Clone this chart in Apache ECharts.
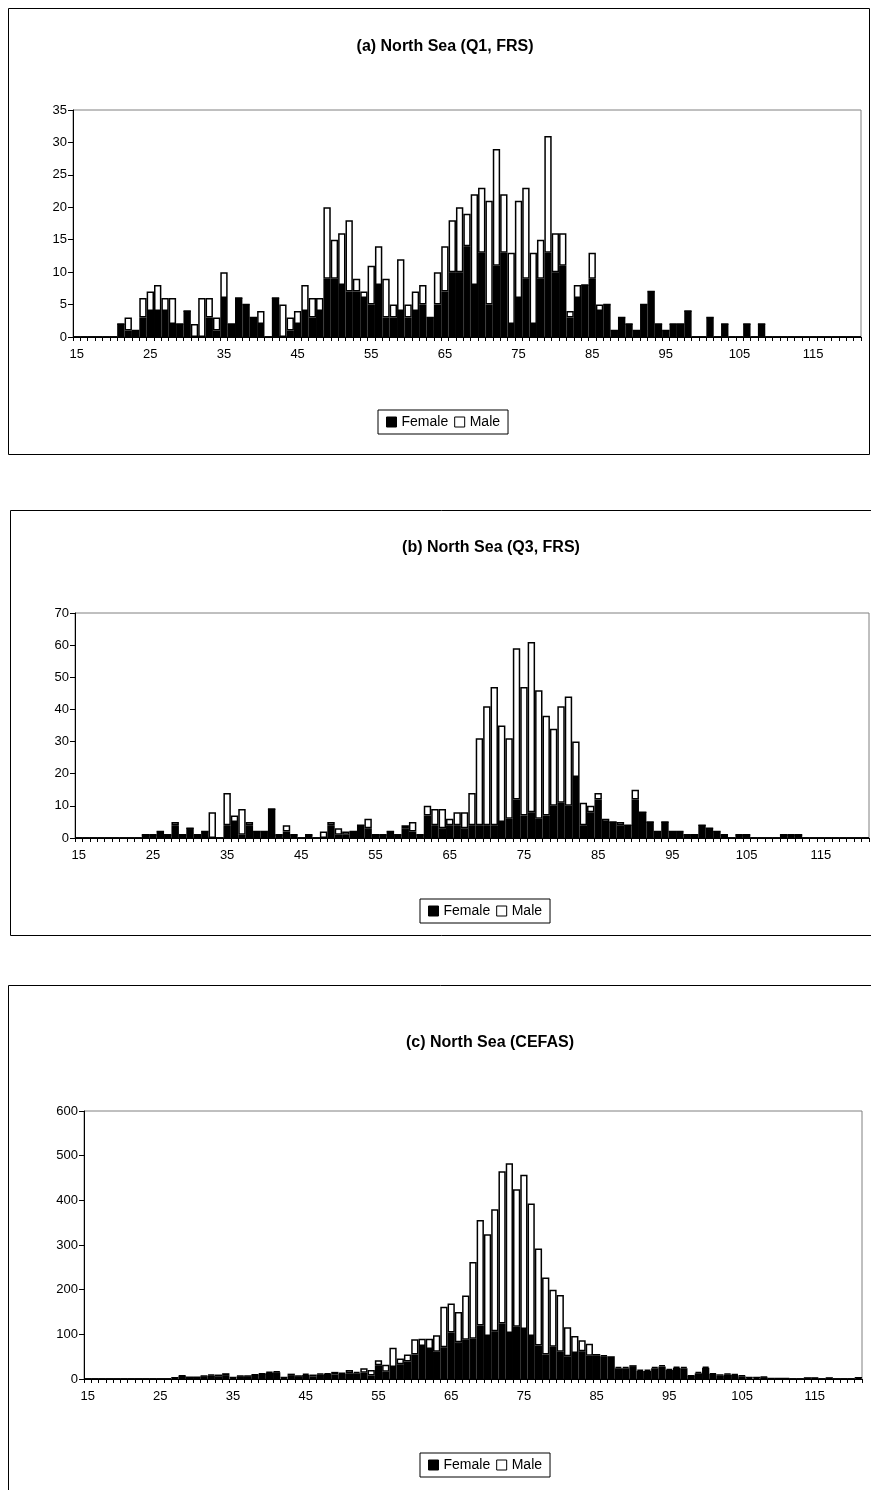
<!DOCTYPE html>
<html>
<head>
<meta charset="utf-8">
<title>North Sea length distributions</title>
<script src="https://cdn.jsdelivr.net/npm/echarts@6/dist/echarts.min.js"></script>
<style>
  html, body { margin: 0; padding: 0; background: #fff; }
  #chart { width: 871px; height: 1490px; }
</style>
</head>
<body>
<div id="chart"></div>
<script>
// length classes (cm), one bar per class
var lengths = [
  '15','16','17','18','19','20','21','22','23','24',
  '25','26','27','28','29','30','31','32','33','34',
  '35','36','37','38','39','40','41','42','43','44',
  '45','46','47','48','49','50','51','52','53','54',
  '55','56','57','58','59','60','61','62','63','64',
  '65','66','67','68','69','70','71','72','73','74',
  '75','76','77','78','79','80','81','82','83','84',
  '85','86','87','88','89','90','91','92','93','94',
  '95','96','97','98','99','100','101','102','103','104',
  '105','106','107','108','109','110','111','112','113','114',
  '115','116','117','118','119','120','121'
];

// (a) Q1, FRS
var aFemale = [
  0,0,0,0,0,0,2,1,1,3,
  4,4,4,2,2,4,0,0,3,1,
  6,2,6,5,3,2,0,6,0,1,
  2,4,3,4,9,9,8,7,7,6,
  5,8,3,3,4,3,4,5,3,5,
  7,10,10,14,8,13,5,11,13,2,
  6,9,2,9,13,10,11,3,6,8,
  9,4,5,1,3,2,1,5,7,2,
  1,2,2,4,0,0,3,0,2,0,
  0,2,0,2,0,0,0,0,0,0,
  0,0,0,0,0,0,0
];
var aMale = [
  0,0,0,0,0,0,0,2,0,3,
  3,4,2,4,0,0,2,6,3,2,
  4,0,0,0,0,2,0,0,5,2,
  2,4,3,2,11,6,8,11,2,1,
  6,6,6,2,8,2,3,3,0,5,
  7,8,10,5,14,10,16,18,9,11,
  15,14,11,6,18,6,5,1,2,0,
  4,1,0,0,0,0,0,0,0,0,
  0,0,0,0,0,0,0,0,0,0,
  0,0,0,0,0,0,0,0,0,0,
  0,0,0,0,0,0,0
];

// (b) Q3, FRS
var bFemale = [
  0,0,0,0,0,0,0,0,0,1,
  1,2,1,4,1,3,1,2,0,0,
  4,5,1,4,2,2,9,1,2,1,
  0,1,0,0,4,1,1,2,4,3,
  1,1,2,1,3,2,1,7,4,3,
  4,4,3,4,4,4,4,5,6,12,
  7,8,6,7,10,11,10,19,4,8,
  12,5,5,4,4,12,8,5,2,5,
  2,2,1,1,4,3,2,1,0,1,
  1,0,0,0,0,1,1,1,0,0,
  0,0,0,0,0,0,0
];
var bMale = [
  0,0,0,0,0,0,0,0,0,0,
  0,0,0,1,0,0,0,0,8,0,
  10,2,8,1,0,0,0,0,2,0,
  0,0,0,2,1,2,1,0,0,3,
  0,0,0,0,1,3,0,3,5,6,
  2,4,5,10,27,37,43,30,25,47,
  40,53,40,31,24,30,34,11,7,2,
  2,1,0,1,0,3,0,0,0,0,
  0,0,0,0,0,0,0,0,0,0,
  0,0,0,0,0,0,0,0,0,0,
  0,0,0,0,0,0,0
];

// (c) CEFAS
var cFemale = [
  0,0,0,0,0,0,0,0,0,0,
  0,0,3,7,4,4,6,8,5,7,
  3,6,6,9,11,14,15,3,7,6,
  9,6,10,11,10,12,13,13,14,8,
  31,16,27,33,39,55,74,67,61,71,
  104,82,88,90,120,96,107,124,103,117,
  112,96,75,55,72,61,51,58,62,52,
  52,51,47,24,24,27,18,18,24,28,
  20,25,24,7,13,25,11,8,10,9,
  6,3,3,4,1,1,1,0,0,2,
  2,0,2,0,0,0,3
];
var cMale = [
  0,0,0,0,0,0,0,0,0,0,
  0,0,0,1,0,0,1,2,5,6,
  1,1,1,1,1,2,2,1,5,1,
  3,4,2,2,6,2,7,3,10,12,
  11,16,43,13,16,34,16,23,37,91,
  65,68,99,172,236,228,273,341,380,308,
  345,297,217,172,128,127,65,38,25,27,
  4,2,4,3,3,4,3,3,3,3,
  3,3,3,1,3,3,2,2,2,2,
  2,1,1,1,0,0,0,0,0,0,
  0,0,0,0,0,0,0
];

var titles = ['(a) North Sea (Q1, FRS)', '(b) North Sea (Q3, FRS)', '(c) North Sea (CEFAS)'];
var yMax = [35, 70, 600];
var yStep = [5, 10, 100];
var females = [aFemale, bFemale, cFemale];
var males = [aMale, bMale, cMale];

var FONT = 'Liberation Sans, Arial, sans-serif';

// layout of the three panels (pixels)
var grids = [
  {left: 73, top: 110, width: 788, height: 227},
  {left: 75, top: 613, width: 794, height: 225},
  {left: 84, top: 1111, width: 778, height: 268}
];
var boxes = [
  {x: 8.5, y: 8.5, width: 861, height: 446},
  {x: 10.5, y: 510.5, width: 1000, height: 425},
  {x: 8.5, y: 985.5, width: 1000, height: 600}
];
var titlePos = [[445, 47], [491, 548], [490, 1043]];
var legendPos = [[378, 410], [420, 899], [420, 1453]];

var chart = echarts.init(document.getElementById('chart'), null, {renderer: 'canvas'});

var option = {
  animation: false,
  backgroundColor: '#fff',
  grid: [],
  xAxis: [],
  yAxis: [],
  legend: [],
  series: [],
  graphic: []
};

for (var i = 0; i < 3; i++) {
  option.grid.push({
    left: grids[i].left, top: grids[i].top,
    width: grids[i].width, height: grids[i].height,
    show: true, borderColor: '#808080', borderWidth: 1,
    containLabel: false
  });
  option.xAxis.push({
    type: 'category',
    gridIndex: i,
    data: lengths,
    boundaryGap: true,
    axisLine: {show: true, lineStyle: {color: '#000', width: 1}},
    axisTick: {show: true, interval: 0, length: 4, lineStyle: {color: '#000'}},
    axisLabel: {interval: 9, color: '#000', fontSize: 13, fontFamily: FONT, margin: 11},
    splitLine: {show: false}
  });
  option.yAxis.push({
    type: 'value',
    gridIndex: i,
    min: 0, max: yMax[i], interval: yStep[i],
    axisLine: {show: true, lineStyle: {color: '#000', width: 1}},
    axisTick: {show: true, length: 5, lineStyle: {color: '#000'}},
    axisLabel: {color: '#000', fontSize: 13, fontFamily: FONT, margin: 6},
    splitLine: {show: false}
  });
  option.legend.push({
    left: legendPos[i][0], top: legendPos[i][1],
    orient: 'horizontal',
    selectedMode: false,
    borderColor: '#000', borderWidth: 1,
    padding: [5, 8, 5, 8],
    itemGap: 6, itemWidth: 10, itemHeight: 10,
    textStyle: {color: '#000', fontSize: 14, fontFamily: FONT},
    data: [
      {name: 'Female', icon: 'rect', itemStyle: {color: '#000', borderColor: '#000', borderWidth: 1}},
      {name: 'Male', icon: 'rect', itemStyle: {color: '#fff', borderColor: '#000', borderWidth: 1}}
    ]
  });
  option.series.push({
    name: 'Female', type: 'bar', stack: 'p' + i,
    xAxisIndex: i, yAxisIndex: i,
    data: females[i],
    barCategoryGap: '0%',
    itemStyle: {color: '#000', borderColor: '#000', borderWidth: 1.5},
    silent: true
  });
  option.series.push({
    name: 'Male', type: 'bar', stack: 'p' + i,
    xAxisIndex: i, yAxisIndex: i,
    data: males[i],
    barCategoryGap: '0%',
    itemStyle: {color: '#fff', borderColor: '#000', borderWidth: 1.5},
    silent: true
  });
  // chart-area frame and title
  option.graphic.push({
    type: 'rect', silent: true, z: -1,
    shape: boxes[i],
    style: {fill: 'none', stroke: '#000', lineWidth: 1}
  });
  option.graphic.push({
    type: 'text', silent: true,
    x: titlePos[i][0], y: titlePos[i][1],
    style: {
      text: titles[i], font: 'bold 16px ' + FONT, fill: '#000',
      textAlign: 'center', textVerticalAlign: 'middle',
      align: 'center', verticalAlign: 'middle'
    }
  });
}

chart.setOption(option);
</script>
</body>
</html>
